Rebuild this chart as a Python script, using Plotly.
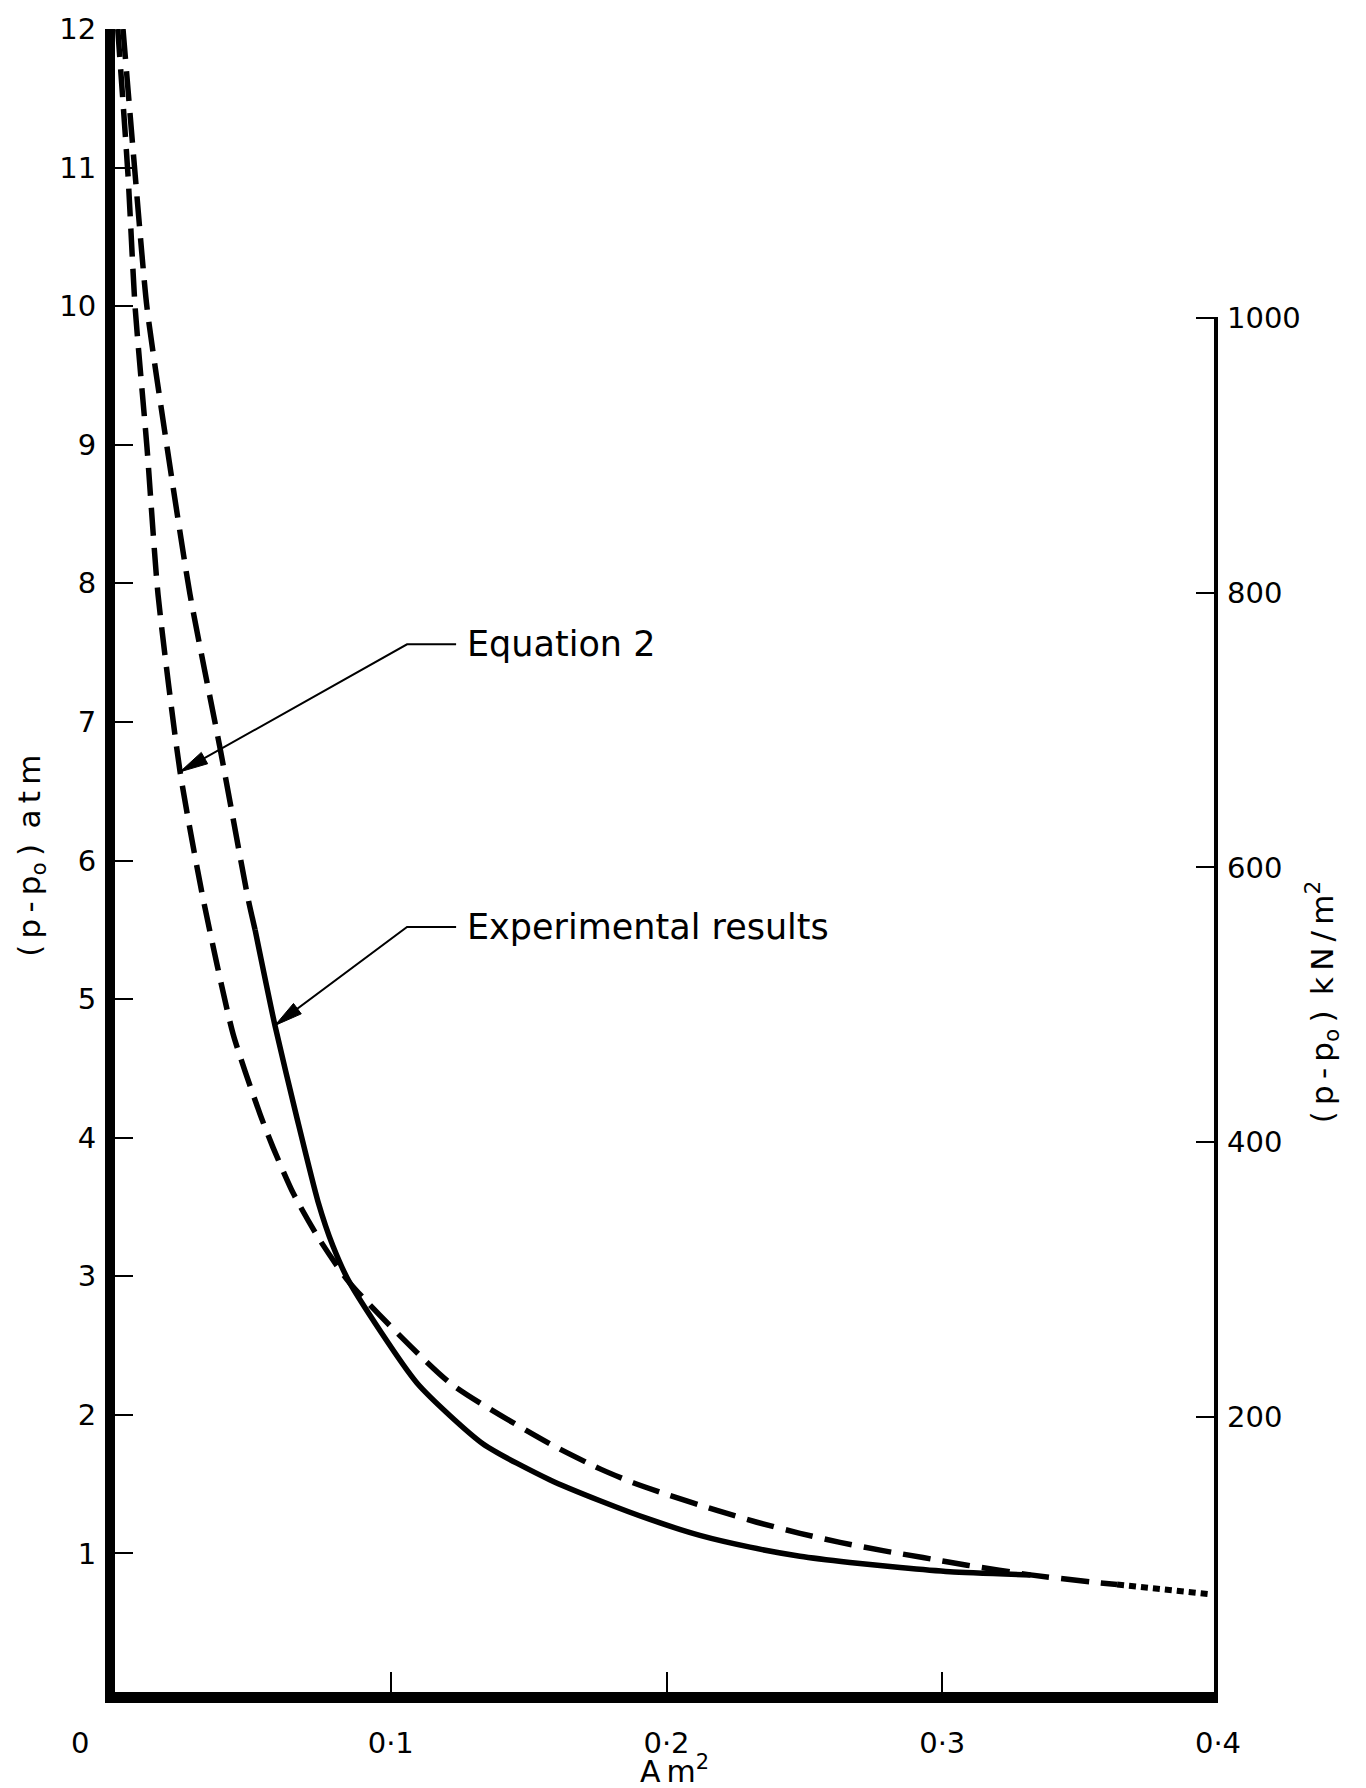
import math
import plotly.graph_objects as go

# Pressure difference (atm) against area A (m^2)

# Equation 2 prediction (dashed), then its extrapolation (dotted)
eq2_x = [0.0010, 0.0047, 0.0073, 0.0116, 0.0156, 0.0236, 0.0319, 0.0428, 0.0526,
         0.0573, 0.0646, 0.0740, 0.0852, 0.1215, 0.1578, 0.1759, 0.1879, 0.2002, 0.2183,
         0.2328, 0.2484, 0.2629, 0.2785, 0.2930, 0.3090, 0.3320, 0.3536, 0.3634]
eq2_y = [12.0, 10.95, 9.99, 8.98, 7.92, 6.64, 5.73, 4.75, 4.17,
         3.93, 3.60, 3.27, 2.95, 2.23, 1.79, 1.61, 1.51, 1.425, 1.31,
         1.225, 1.145, 1.08, 1.02, 0.97, 0.915, 0.845, 0.795, 0.775]

eq2_ext_x = [0.3634, 0.3790, 0.3971]
eq2_ext_y = [0.775, 0.745, 0.706]

# Experimental results: dashed at high pressure, solid below
exp_dash_x = [0.0029, 0.0073, 0.0116, 0.0189, 0.0272, 0.0381, 0.0482, 0.0508]
exp_dash_y = [12.0, 10.95, 9.99, 8.98, 7.92, 6.81, 5.73, 5.50]

exp_solid_x = [0.0508, 0.0580, 0.0660, 0.0736, 0.0790, 0.0852, 0.1095, 0.1335, 0.1578,
               0.1759, 0.1940, 0.2121, 0.2303, 0.2484, 0.2665, 0.2847, 0.3028, 0.3320]
exp_solid_y = [5.50, 4.81, 4.14, 3.54, 3.22, 2.95, 2.23, 1.79, 1.53,
               1.38, 1.245, 1.13, 1.045, 0.98, 0.935, 0.898, 0.868, 0.845]

# Axis ticks
x_range = [0, 0.4]
y_range = [0, 12]
y2_range = [0, 1210]
x_tickvals = [0.1, 0.2, 0.3, 0.4]
x_ticktext = ["0·1", "0·2", "0·3", "0·4"]
y_tickvals = list(range(1, 13))
y2_tickvals = [200, 400, 600, 800, 1000]

# Callout labels: (text, label y, arrow tip x, arrow tip y)
callouts = [
    ("Equation 2", 7.56, 0.0236, 6.64),
    ("Experimental results", 5.52, 0.0580, 4.81),
]
callout_elbow_x = 0.1059
callout_end_x = 0.1237
callout_text_x = 0.1269

FONT = "DejaVu Sans"
INK = "black"
W, H = 1366, 1788
M = dict(l=115, r=148, t=26, b=96)
TS = "\u2009"  # thin space for the spaced-out axis lettering

fig = go.Figure()

fig.add_trace(go.Scatter(x=eq2_x, y=eq2_y, mode="lines",
                         line=dict(color=INK, width=5.5, dash="28px,12px", shape="spline", smoothing=0.6),
                         showlegend=False, hoverinfo="skip"))
fig.add_trace(go.Scatter(x=eq2_ext_x, y=eq2_ext_y, mode="lines",
                         line=dict(color=INK, width=6, dash="7px,5px"),
                         showlegend=False, hoverinfo="skip"))
fig.add_trace(go.Scatter(x=exp_dash_x, y=exp_dash_y, mode="lines",
                         line=dict(color=INK, width=5.5, dash="30px,12px", shape="spline", smoothing=0.6),
                         showlegend=False, hoverinfo="skip"))
fig.add_trace(go.Scatter(x=exp_solid_x, y=exp_solid_y, mode="lines",
                         line=dict(color=INK, width=5.5, shape="spline", smoothing=0.6),
                         showlegend=False, hoverinfo="skip"))

# Right-hand kN/m^2 scale: the axis line only runs up to 1000
fig.add_shape(type="line", xref="x", yref="y2", x0=0.4, x1=0.4, y0=0, y1=y2_tickvals[-1],
              line=dict(color=INK, width=8))

# Pixel scale of the plot area, used to orient the narrow arrowheads
px_per_x = (W - M["l"] - M["r"]) / (x_range[1] - x_range[0])
px_per_y = (H - M["t"] - M["b"]) / (y_range[1] - y_range[0])
HEAD_LEN, HEAD_HALF = 28, 6.5

for text, ly, tx, ty in callouts:
    # leader: short horizontal run from the label, then a slant to the curve
    fig.add_shape(type="path", xref="x", yref="y",
                  path=f"M{callout_end_x},{ly} L{callout_elbow_x},{ly} L{tx},{ty}",
                  line=dict(color=INK, width=2))
    dx = (callout_elbow_x - tx) * px_per_x
    dy = (ly - ty) * px_per_y
    L = math.hypot(dx, dy)
    ux, uy = dx / L, dy / L
    bx, by = ux * HEAD_LEN, uy * HEAD_LEN
    p1 = (bx - uy * HEAD_HALF, by + ux * HEAD_HALF)
    p2 = (bx + uy * HEAD_HALF, by - ux * HEAD_HALF)
    fig.add_shape(type="path", xref="x", yref="y",
                  xsizemode="pixel", ysizemode="pixel", xanchor=tx, yanchor=ty,
                  path=f"M0,0 L{p1[0]:.2f},{p1[1]:.2f} L{p2[0]:.2f},{p2[1]:.2f} Z",
                  fillcolor=INK, line=dict(color=INK, width=1))
    fig.add_annotation(x=callout_text_x, y=ly, xref="x", yref="y", text=text,
                       showarrow=False, xanchor="left", yanchor="middle",
                       font=dict(family=FONT, size=35, color=INK))

# Axis titles and origin label
fig.add_annotation(xref="paper", yref="paper", x=-0.076, y=0.503,
                   xanchor="center", yanchor="middle",
                   text=f"({TS}p{TS}-{TS}p<sub>o</sub>{TS})\u2002a{TS}t{TS}m",
                   textangle=-90, showarrow=False,
                   font=dict(family=FONT, size=31, color=INK))
fig.add_annotation(xref="paper", yref="paper", x=1.0943, y=0.4148,
                   xanchor="center", yanchor="middle",
                   text=f"({TS}p{TS}-{TS}p<sub>o</sub>{TS})\u2002k{TS}N{TS}/{TS}m<sup>2</sup>",
                   textangle=-90, showarrow=False,
                   font=dict(family=FONT, size=31, color=INK))
fig.add_annotation(xref="paper", yref="paper", x=0.5068, y=-0.0468,
                   xanchor="center", yanchor="middle",
                   text=f"A{TS}m<sup>2</sup>", showarrow=False,
                   font=dict(family=FONT, size=30, color=INK))
fig.add_annotation(xref="paper", yref="paper", x=-0.0317, y=-0.0305,
                   xanchor="center", yanchor="middle",
                   text="0", showarrow=False,
                   font=dict(family=FONT, size=29, color=INK))

fig.update_layout(
    width=W, height=H,
    margin=M,
    paper_bgcolor="white", plot_bgcolor="white",
    showlegend=False,
    font=dict(family=FONT, color=INK),
    xaxis=dict(range=x_range, showline=True, linewidth=11, linecolor=INK,
               ticks="inside", ticklen=20, tickwidth=2, tickcolor=INK,
               tickvals=x_tickvals, ticktext=x_ticktext,
               tickfont=dict(family=FONT, size=29, color=INK),
               ticklabelstandoff=15,
               showgrid=False, zeroline=False),
    yaxis=dict(range=y_range, showline=True, linewidth=10, linecolor=INK,
               ticks="inside", ticklen=18, tickwidth=2, tickcolor=INK,
               tickvals=y_tickvals,
               tickfont=dict(family=FONT, size=29, color=INK),
               ticklabelstandoff=3,
               showgrid=False, zeroline=False),
    yaxis2=dict(range=y2_range, overlaying="y", side="right", showline=False,
                ticks="inside", ticklen=22, tickwidth=2, tickcolor=INK,
                tickvals=y2_tickvals,
                tickfont=dict(family=FONT, size=29, color=INK),
                ticklabelstandoff=8,
                showgrid=False, zeroline=False),
)

fig.write_html("out.html")
